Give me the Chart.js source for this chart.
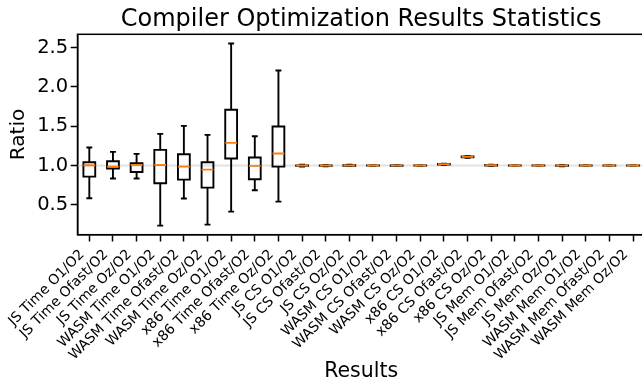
<!DOCTYPE html>
<html>
<head>
<meta charset="utf-8">
<script src="https://cdn.jsdelivr.net/npm/chart.js@4/dist/chart.umd.min.js"></script>
<style>
  html, body { margin: 0; padding: 0; background: #fff; overflow: hidden; }
  #wrap { width: 650px; height: 385px; position: relative; }
</style>
</head>
<body>
<div id="wrap"><canvas id="c"></canvas></div>
<script>
const categories = [
  'JS Time O1/O2', 'JS Time Ofast/O2', 'JS Time Oz/O2',
  'WASM Time O1/O2', 'WASM Time Ofast/O2', 'WASM Time Oz/O2',
  'x86 Time O1/O2', 'x86 Time Ofast/O2', 'x86 Time Oz/O2',
  'JS CS O1/O2', 'JS CS Ofast/O2', 'JS CS Oz/O2',
  'WASM CS O1/O2', 'WASM CS Ofast/O2', 'WASM CS Oz/O2',
  'x86 CS O1/O2', 'x86 CS Ofast/O2', 'x86 CS Oz/O2',
  'JS Mem O1/O2', 'JS Mem Ofast/O2', 'JS Mem Oz/O2',
  'WASM Mem O1/O2', 'WASM Mem Ofast/O2', 'WASM Mem Oz/O2'
];
const whiskerLow  = [0.585, 0.835, 0.835, 0.237, 0.581, 0.250, 0.415, 0.686, 0.542,
                     0.988, 0.992, 0.993, 0.998, 0.997, 0.998, 1.008, 1.100, 0.996,
                     0.999, 0.999, 0.992, 0.999, 0.999, 0.999];
const q1          = [0.860, 0.962, 0.919, 0.775, 0.822, 0.720, 1.089, 0.826, 0.987,
                     0.996, 0.997, 0.998, 0.999, 0.998, 0.999, 1.012, 1.106, 1.001,
                     0.999, 0.999, 0.997, 0.999, 0.999, 0.999];
const median      = [1.004, 0.987, 1.008, 1.008, 0.987, 0.949, 1.288, 0.996, 1.153,
                     1.000, 1.000, 1.001, 1.000, 0.999, 1.000, 1.017, 1.112, 1.004,
                     1.000, 1.000, 1.000, 1.000, 1.000, 1.000];
const q3          = [1.042, 1.055, 1.030, 1.199, 1.144, 1.042, 1.708, 1.102, 1.496,
                     1.003, 1.003, 1.004, 1.001, 1.000, 1.001, 1.020, 1.116, 1.007,
                     1.001, 1.001, 1.003, 1.001, 1.001, 1.001];
const whiskerHigh = [1.229, 1.174, 1.148, 1.403, 1.504, 1.390, 2.551, 1.373, 2.208,
                     1.012, 1.008, 1.010, 1.002, 1.001, 1.002, 1.024, 1.122, 1.012,
                     1.001, 1.001, 1.008, 1.001, 1.001, 1.001];
const yTicks = [0.5, 1.0, 1.5, 2.0, 2.5];
const referenceLine = 1.0;

const FONT = "'DejaVu Sans', sans-serif";

const boxPlugin = {
  id: 'boxPlugin',
  beforeDatasetsDraw(chart) {
    const {ctx, chartArea: a, scales: {y}} = chart;
    const py = y.getPixelForValue(referenceLine);
    ctx.save();
    ctx.beginPath();
    ctx.rect(a.left, a.top, a.right - a.left, a.bottom - a.top);
    ctx.clip();
    ctx.strokeStyle = '#e2e2e2';
    ctx.lineWidth = 2;
    ctx.beginPath();
    ctx.moveTo(a.left, py);
    ctx.lineTo(a.right, py);
    ctx.stroke();
    ctx.restore();
  },
  afterDatasetsDraw(chart) {
    const {ctx, chartArea: a, scales: {x, y}} = chart;
    const band = x.getPixelForValue(1) - x.getPixelForValue(0);
    const bw = band * 0.5, cw = band * 0.25;
    ctx.save();
    ctx.beginPath();
    ctx.rect(a.left, a.top, a.right - a.left, a.bottom - a.top);
    ctx.clip();
    ctx.lineWidth = 1.9;
    ctx.lineCap = 'butt';
    ctx.lineJoin = 'miter';
    for (let i = 0; i < categories.length; i++) {
      const cx = x.getPixelForValue(i);
      const yl = y.getPixelForValue(whiskerLow[i]);
      const y1 = y.getPixelForValue(q1[i]);
      const ym = y.getPixelForValue(median[i]);
      const y3 = y.getPixelForValue(q3[i]);
      const yh = y.getPixelForValue(whiskerHigh[i]);
      ctx.strokeStyle = '#000';
      ctx.beginPath();
      ctx.moveTo(cx, y1); ctx.lineTo(cx, yl);
      ctx.moveTo(cx, y3); ctx.lineTo(cx, yh);
      ctx.moveTo(cx - cw / 2, yl); ctx.lineTo(cx + cw / 2, yl);
      ctx.moveTo(cx - cw / 2, yh); ctx.lineTo(cx + cw / 2, yh);
      ctx.stroke();
      ctx.beginPath();
      ctx.rect(cx - bw / 2, y3, bw, y1 - y3);
      ctx.stroke();
      ctx.strokeStyle = '#ff7f0e';
      ctx.beginPath();
      ctx.moveTo(cx - bw / 2, ym); ctx.lineTo(cx + bw / 2, ym);
      ctx.stroke();
    }
    ctx.restore();
  },
  afterDraw(chart) {
    const {ctx, chartArea: a} = chart;
    ctx.save();
    ctx.strokeStyle = '#000';
    ctx.lineWidth = 1.5;
    ctx.strokeRect(a.left, a.top, a.right - a.left, a.bottom - a.top);
    ctx.restore();
  }
};

new Chart(document.getElementById('c'), {
  type: 'bar',
  data: {
    labels: categories,
    datasets: [{
      label: 'IQR',
      data: categories.map((_, i) => [q1[i], q3[i]]),
      backgroundColor: 'rgba(0,0,0,0)',
      borderWidth: 0,
      barPercentage: 0.5,
      categoryPercentage: 1.0
    }]
  },
  options: {
    responsive: true,
    maintainAspectRatio: false,
    animation: false,
    events: [],
    layout: { padding: { left: 0, right: 4.1, top: 0, bottom: 0 } },
    plugins: {
      legend: { display: false },
      tooltip: { enabled: false },
      title: { display: false }
    },
    scales: {
      top: {
        type: 'category',
        position: 'top',
        offset: true,
        afterFit(s) { s.height = 34.3; },
        grid: { display: false, drawTicks: false },
        border: { display: false },
        ticks: { display: false },
        title: {
          display: true,
          text: 'Compiler Optimization Results Statistics',
          color: '#000',
          font: { family: FONT, size: 24, weight: 'normal', lineHeight: 1.2 },
          padding: { top: 5.5, bottom: 0 }
        }
      },
      x: {
        type: 'category',
        position: 'bottom',
        offset: true,
        afterFit(s) { s.height = 150.3; },
        grid: { display: true, offset: false, drawOnChartArea: false, drawTicks: true,
                tickLength: 6.8, tickColor: '#000', tickWidth: 1.5 },
        border: { display: true, color: '#000', width: 1.5 },
        ticks: {
          autoSkip: false, minRotation: 45, maxRotation: 45,
          color: '#000', padding: 5, labelOffset: -7,
          font: { family: FONT, size: 14 }
        },
        title: {
          display: true, text: 'Results', color: '#000',
          font: { family: FONT, size: 20.5, lineHeight: 1.2 },
          padding: { top: 0, bottom: 0.8 }
        }
      },
      y: {
        type: 'linear',
        min: 0.122, max: 2.667,
        afterFit(s) { s.width = 77.5; },
        afterBuildTicks(s) { s.ticks = yTicks.map(v => ({ value: v })); },
        grid: { display: true, drawOnChartArea: false, drawTicks: true,
                tickLength: 6.8, tickColor: '#000', tickWidth: 1.5 },
        border: { display: true, color: '#000', width: 1.5 },
        ticks: {
          color: '#000', padding: 2.5,
          font: { family: FONT, size: 19.5 },
          callback: v => Number(v).toFixed(1)
        },
        title: {
          display: true, text: 'Ratio', color: '#000',
          font: { family: FONT, size: 20, lineHeight: 1.2 },
          padding: { top: 7.2, bottom: 0 }
        }
      }
    }
  },
  plugins: [boxPlugin]
});
</script>
</body>
</html>
